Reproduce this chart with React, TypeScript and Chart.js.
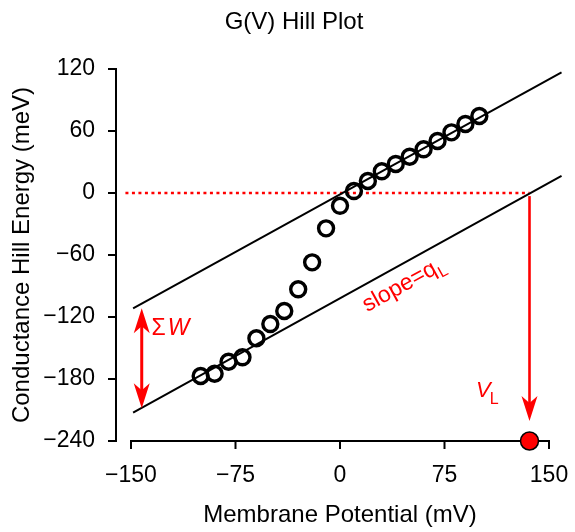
import React, { useEffect, useRef } from "react";
import { Chart, registerables } from "chart.js";

Chart.register(...registerables);

// ---- data ----
const potentials = [-100, -90, -80, -70, -60, -50, -40, -30, -20, -10, 0, 10, 20, 30, 40, 50, 60, 70, 80, 90, 100];
const hillEnergy = [-177.1, -174.9, -163.3, -159.0, -140.6, -126.8, -114.2, -93.2, -67.1, -34.2, -12.4, 1.9, 11.6, 21.0, 28.1, 35.1, 42.3, 50.3, 58.7, 66.8, 74.5];
const xTicks = [-150, -75, 0, 75, 150];
const yTicks = [-240, -180, -120, -60, 0, 60, 120];
const limitX = [-148.5, 159];
const upperLimitY = [-111.6, 116.8];
const lowerLimitY = [-212.6, 16.5];
const vL = 136;
const zeroLineX = [-154, vL];
const vLArrowY = [-3, -220.6];
const sumWArrowX = -142.3;
const sumWArrowY = [-111.6, -208.4];

const FONT = "'Liberation Sans', Arial, Helvetica, sans-serif";
const RED = "#ff0000";

const minus = (v: number | string) => String(v).replace("-", "\u2212");

function arrowHead(ctx: CanvasRenderingContext2D, x: number, y: number, dir: number) {
  // dir = 1 -> pointing down, -1 -> pointing up
  const len = 25, notch = 18, half = 8;
  ctx.beginPath();
  ctx.moveTo(x, y);
  ctx.lineTo(x - half, y - dir * len);
  ctx.lineTo(x, y - dir * notch);
  ctx.lineTo(x + half, y - dir * len);
  ctx.closePath();
  ctx.fill();
}

const decorPlugin = {
  id: "decor",
  beforeDatasetsDraw(chart: any) {
    const { ctx } = chart;
    const xs = chart.scales.x, ys = chart.scales.y;
    const X = (v: number) => xs.getPixelForValue(v);
    const Y = (v: number) => ys.getPixelForValue(v);
    ctx.save();
    ctx.strokeStyle = "#000";
    ctx.lineWidth = 2;
    ctx.lineCap = "butt";
    // detached y axis
    const ax = chart.chartArea.left - 15;
    ctx.beginPath();
    ctx.moveTo(ax, Y(yTicks[yTicks.length - 1]) - 1);
    ctx.lineTo(ax, Y(yTicks[0]) + 1);
    ctx.stroke();
    yTicks.forEach((v) => {
      ctx.beginPath();
      ctx.moveTo(ax - 8, Y(v));
      ctx.lineTo(ax + 1, Y(v));
      ctx.stroke();
    });
    // x axis
    const ay = Y(yTicks[0]);
    ctx.beginPath();
    ctx.moveTo(X(xTicks[0]) - 1, ay);
    ctx.lineTo(X(xTicks[xTicks.length - 1]) + 1, ay);
    ctx.stroke();
    xTicks.forEach((v) => {
      ctx.beginPath();
      ctx.moveTo(X(v), ay - 1);
      ctx.lineTo(X(v), ay + 8);
      ctx.stroke();
    });
    ctx.restore();
  },
  afterDatasetsDraw(chart: any) {
    const { ctx } = chart;
    const xs = chart.scales.x, ys = chart.scales.y;
    const X = (v: number) => xs.getPixelForValue(v);
    const Y = (v: number) => ys.getPixelForValue(v);
    ctx.save();
    ctx.fillStyle = RED;
    ctx.strokeStyle = RED;
    ctx.lineWidth = 2.6;
    // V_L arrow (down)
    {
      const x = X(vL), y0 = Y(vLArrowY[0]), y1 = Y(vLArrowY[1]);
      ctx.beginPath();
      ctx.moveTo(x, y0);
      ctx.lineTo(x, y1 - 17);
      ctx.stroke();
      arrowHead(ctx, x, y1, 1);
    }
    // Sum W double arrow
    {
      const x = X(sumWArrowX), yt = Y(sumWArrowY[0]), yb = Y(sumWArrowY[1]);
      ctx.lineWidth = 3;
      ctx.beginPath();
      ctx.moveTo(x, yt + 17);
      ctx.lineTo(x, yb - 17);
      ctx.stroke();
      arrowHead(ctx, x, yt, -1);
      arrowHead(ctx, x, yb, 1);
    }
    // texts
    ctx.textAlign = "left";
    ctx.textBaseline = "alphabetic";
    {
      const x0 = X(-135.2), y0 = Y(-137.4);
      ctx.font = `23px ${FONT}`;
      ctx.fillText("\u03A3", x0, y0);
      const w = ctx.measureText("\u03A3").width;
      ctx.font = `italic 23px ${FONT}`;
      ctx.fillText("W", x0 + w + 2, y0);
    }
    {
      const x0 = X(97.6), y0 = Y(-197.1);
      ctx.font = `italic 22px ${FONT}`;
      ctx.fillText("V", x0, y0);
      const w = ctx.measureText("V").width;
      ctx.font = `16px ${FONT}`;
      ctx.fillText("L", x0 + w - 1, y0 + 7.6);
    }
    {
      const ang = Math.atan2(Y(lowerLimitY[1]) - Y(lowerLimitY[0]), X(limitX[1]) - X(limitX[0]));
      ctx.translate(X(19.5), Y(-115.5));
      ctx.rotate(ang);
      ctx.font = `23px ${FONT}`;
      ctx.fillText("slope=q", 0, 0);
      const w = ctx.measureText("slope=q").width;
      ctx.font = `16px ${FONT}`;
      ctx.fillText("L", w + 0.5, 6);
    }
    ctx.restore();
  },
  afterDraw(chart: any) {
    const { ctx } = chart;
    ctx.save();
    ctx.fillStyle = "#000";
    ctx.font = `24px ${FONT}`;
    ctx.textAlign = "center";
    ctx.textBaseline = "alphabetic";
    ctx.fillText("G(V) Hill Plot", chart.width / 2 + 6.5, 29);
    ctx.restore();
  },
};

export default function App() {
  const ref = useRef<HTMLCanvasElement | null>(null);
  useEffect(() => {
    if (!ref.current) return;
    const chart = new Chart(ref.current, {
      type: "line",
      data: {
        datasets: [
          {
            label: "G(V)",
            data: potentials.map((x, i) => ({ x, y: hillEnergy[i] })),
            showLine: false,
            pointRadius: 7.5,
            pointBorderWidth: 3.4,
            pointBorderColor: "#000",
            pointBackgroundColor: "rgba(0,0,0,0)",
            borderColor: "#000",
          },
          {
            label: "VL",
            data: [{ x: vL, y: yTicks[0] }],
            showLine: false,
            pointRadius: 9,
            pointBorderWidth: 1.5,
            pointBorderColor: "#000",
            pointBackgroundColor: RED,
            clip: false,
          },
          {
            label: "upper",
            data: limitX.map((x, i) => ({ x, y: upperLimitY[i] })),
            borderColor: "#000",
            borderWidth: 2,
            pointRadius: 0,
            clip: false,
          },
          {
            label: "lower",
            data: limitX.map((x, i) => ({ x, y: lowerLimitY[i] })),
            borderColor: "#000",
            borderWidth: 2,
            pointRadius: 0,
            clip: false,
          },
          {
            label: "zero",
            data: zeroLineX.map((x) => ({ x, y: 0 })),
            borderColor: RED,
            borderWidth: 2.5,
            borderDash: [3, 3.5],
            pointRadius: 0,
            clip: false,
          },
        ],
      },
      options: {
        responsive: false,
        animation: false,
        events: [],
        layout: { autoPadding: false, padding: { top: 69, right: 26, left: 0, bottom: 0 } },
        plugins: {
          legend: { display: false },
          tooltip: { enabled: false },
          title: { display: false },
        },
        scales: {
          x: {
            type: "linear",
            min: -150,
            max: 150,
            grid: { display: false, drawTicks: false },
            border: { display: false },
            afterBuildTicks: (s: any) => {
              s.ticks = xTicks.map((v) => ({ value: v }));
            },
            afterFit: (s: any) => {
              s.height = 91;
              s.paddingLeft = 0;
              s.paddingRight = 0;
            },
            ticks: {
              font: { family: FONT, size: 23 },
              color: "#000",
              padding: 21,
              maxRotation: 0,
              callback: (v: any) => minus(v),
            },
            title: {
              display: true,
              text: "Membrane Potential (mV)",
              font: { family: FONT, size: 24 },
              color: "#000",
              padding: { top: 0, bottom: 2 },
            },
          },
          y: {
            type: "linear",
            min: -240,
            max: 120,
            grid: { display: false, drawTicks: false },
            border: { display: false },
            afterBuildTicks: (s: any) => {
              s.ticks = yTicks.map((v) => ({ value: v }));
            },
            afterFit: (s: any) => {
              s.width = 131;
              s.paddingTop = 0;
              s.paddingBottom = 0;
            },
            ticks: {
              font: { family: FONT, size: 23 },
              color: "#000",
              padding: 36,
              callback: (v: any) => minus(v),
            },
            title: {
              display: true,
              text: "Conductance Hill Energy (meV)",
              font: { family: FONT, size: 24 },
              color: "#000",
              padding: { top: 8, bottom: 0 },
            },
          },
        },
      },
      plugins: [decorPlugin],
    } as any);
    return () => chart.destroy();
  }, []);
  return (
    <div style={{ position: "fixed", left: 0, top: 0, width: 575, height: 532, background: "#fff" }}>
      <canvas ref={ref} width={575} height={532} style={{ display: "block" }} />
    </div>
  );
}
